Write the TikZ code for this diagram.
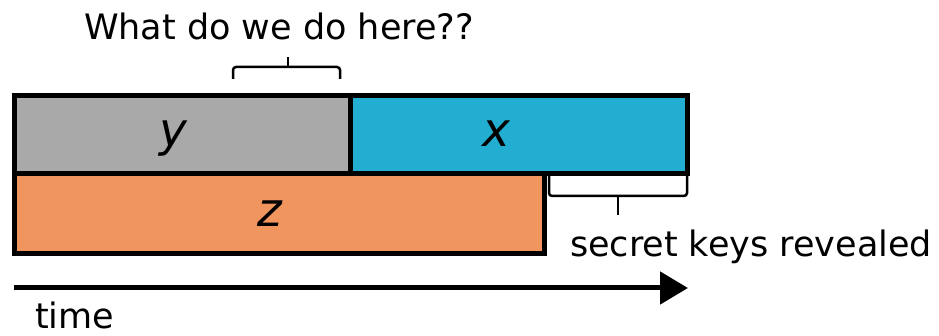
\documentclass[tikz,border=0pt]{standalone}
\usepackage{fontspec}
\setmainfont{DejaVu Sans}
\usetikzlibrary{arrows.meta}
\definecolor{boxgray}{RGB}{169,169,169}
\definecolor{boxblue}{RGB}{33,174,208}
\definecolor{boxorange}{RGB}{240,149,94}
\tikzset{
  seg/.style={draw=black, line width=5pt, line join=miter, inner sep=0pt, outer sep=0pt},
  seglabel/.style={font=\fontsize{47}{52}\selectfont\itshape, inner sep=0pt, anchor=base},
  caption/.style={font=\fontsize{35}{40}\selectfont, inner sep=0pt, anchor=base},
  bracket/.style={draw=black, line width=2.5pt, rounded corners=3pt}
}
\begin{document}
\begin{tikzpicture}[x=1pt,y=-1pt]
  \useasboundingbox (0,0) rectangle (939,336);
  % the three time segments
  \node[seg, fill=boxgray, minimum width=336pt, minimum height=78pt, anchor=north west] (y) at (14,96) {};
  \node[seg, fill=boxblue, minimum width=337pt, minimum height=78pt, anchor=north west] (x) at (350,96) {};
  \node[seg, fill=boxorange, minimum width=530pt, minimum height=80pt, anchor=north west] (z) at (14,174) {};
  \node[seglabel] (ly) at (173,147) {y};
  \node[seglabel] (lx) at (496,147) {x};
  \node[seglabel] (lz) at (270,227) {z};
  % bracket over part of y
  \draw[bracket] (233,79) -- (233,67) -- (340,67) -- (340,79);
  \draw[bracket, rounded corners=0pt] (288,67) -- (288,57);
  \node[caption] (q) at (279,40) {What do we do here??};
  % bracket under the tail of x
  \draw[bracket] (549,176) -- (549,196) -- (687,196) -- (687,176);
  \draw[bracket, rounded corners=0pt] (618,196) -- (618,215);
  \node[caption] (s) at (751,257) {secret keys revealed};
  % time axis
  \coordinate (t0) at (14,288);
  \coordinate (t1) at (688,288);
  \draw[line width=5pt, -{Triangle[length=28pt, width=32pt]}] (t0) -- (t1);
  \node[caption, anchor=base west] (time) at (35,328) {time};
\end{tikzpicture}
\end{document}
